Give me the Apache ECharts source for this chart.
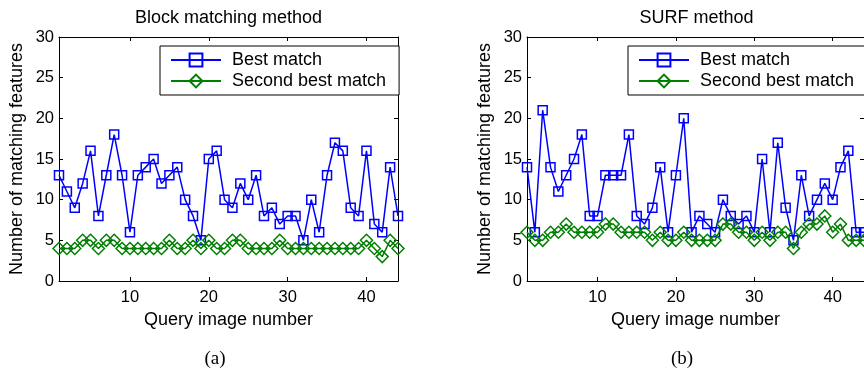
<!DOCTYPE html>
<html>
<head>
<meta charset="utf-8">
<script src="https://cdn.jsdelivr.net/npm/echarts@6/dist/echarts.min.js"></script>
<style>html,body{margin:0;padding:0;background:#fff}#c{width:864px;height:372px}</style>
</head>
<body>
<div id="c"></div>
<script>
// ---- data ----
const titles = ['Block matching method', 'SURF method'];
const captions = ['(a)', '(b)'];
const seriesNames = ['Best match', 'Second best match'];
const xTickValues = [10, 20, 30, 40];
const xMin = 1, xMax = 44;
const blockBest = [13,11,9,12,16,8,13,18,13,6, 13,14,15,12,13,14,10,8,5,15, 16,10,9,12,10,13,8,9,7,8, 8,5,10,6,13,17,16,9,8,16, 7,6,14,8];
const blockSecond = [4,4,4,5,5,4,5,5,4,4, 4,4,4,4,5,4,4,5,4,5, 4,4,5,5,4,4,4,4,5,4, 4,4,4,4,4,4,4,4,4,5, 4,3,5,4];
const surfBest = [14,6,21,14,11,13,15,18,8,8, 13,13,13,18,8,7,9,14,6,13, 20,6,8,7,6,10,8,7,8,6, 15,6,17,9,5,13,8,10,12,10, 14,16,6,6];
const surfSecond = [6,5,5,6,6,7,6,6,6,6, 7,7,6,6,6,6,5,6,5,5, 6,5,5,5,5,7,7,6,6,5, 6,5,6,6,4,6,7,7,8,6, 7,5,5,5];

const FONT = 'Liberation Sans, Arial, Helvetica, sans-serif';
const BLUE = '#0000ff', GREEN = '#008000';
const gridLefts = [59, 527];
const gridTop = 37, gridW = 339, gridH = 244;

function pairs(arr) { return arr.map((v, i) => [i + 1, v]); }

const chart = echarts.init(document.getElementById('c'), null, {renderer: 'canvas'});

const grids = [], xAxes = [], yAxes = [], series = [], legends = [], graphics = [];
const dataSets = [[blockBest, blockSecond], [surfBest, surfSecond]];

for (let g = 0; g < 2; g++) {
  grids.push({left: gridLefts[g], top: gridTop, width: gridW, height: gridH, containLabel: false});
  const tickCommon = {show: true, inside: true, length: 4, lineStyle: {color: '#000', width: 1}, customValues: xTickValues};
  xAxes.push({
    gridIndex: g, type: 'value', min: xMin, max: xMax, position: 'bottom',
    axisLine: {show: true, onZero: false, lineStyle: {color: '#000', width: 1}},
    axisTick: tickCommon,
    axisLabel: {show: true, customValues: xTickValues, color: '#000', fontFamily: FONT, fontSize: 16.5, margin: 8},
    splitLine: {show: false},
    name: 'Query image number', nameLocation: 'middle', nameGap: 28,
    nameTextStyle: {color: '#000', fontFamily: FONT, fontSize: 18}
  });
  xAxes.push({
    gridIndex: g, type: 'value', min: xMin, max: xMax, position: 'top',
    axisLine: {show: true, onZero: false, lineStyle: {color: '#000', width: 1}},
    axisTick: tickCommon,
    axisLabel: {show: false},
    splitLine: {show: false}
  });
  const yTick = {show: true, inside: true, length: 4, lineStyle: {color: '#000', width: 1}};
  yAxes.push({
    gridIndex: g, type: 'value', min: 0, max: 30, interval: 5, position: 'left',
    axisLine: {show: true, onZero: false, lineStyle: {color: '#000', width: 1}},
    axisTick: yTick,
    axisLabel: {color: '#000', fontFamily: FONT, fontSize: 16.5, margin: 5},
    splitLine: {show: false},
    name: 'Number of matching features', nameLocation: 'middle', nameGap: 33, nameRotate: 90,
    nameTextStyle: {color: '#000', fontFamily: FONT, fontSize: 18}
  });
  yAxes.push({
    gridIndex: g, type: 'value', min: 0, max: 30, interval: 5, position: 'right',
    axisLine: {show: true, onZero: false, lineStyle: {color: '#000', width: 1}},
    axisTick: yTick,
    axisLabel: {show: false},
    splitLine: {show: false}
  });
  const [best, second] = dataSets[g];
  series.push({
    name: seriesNames[0], type: 'line', xAxisIndex: 2 * g, yAxisIndex: 2 * g,
    data: pairs(best), symbol: 'rect', symbolSize: 9, showAllSymbol: true,
    lineStyle: {color: BLUE, width: 1.5},
    itemStyle: {color: 'rgba(0,0,0,0)', borderColor: BLUE, borderWidth: 1.5},
    emphasis: {disabled: true}, animation: false, z: 2
  });
  series.push({
    name: seriesNames[1], type: 'line', xAxisIndex: 2 * g, yAxisIndex: 2 * g,
    data: pairs(second), symbol: 'diamond', symbolSize: [12, 12], showAllSymbol: true,
    lineStyle: {color: GREEN, width: 1.5},
    itemStyle: {color: 'rgba(0,0,0,0)', borderColor: GREEN, borderWidth: 1.5},
    emphasis: {disabled: true}, animation: false, z: 3
  });
  legends.push({
    left: gridLefts[g] + 101, top: 46, orient: 'vertical',
    data: seriesNames, selectedMode: false,
    backgroundColor: '#fff', borderColor: '#000', borderWidth: 1, borderRadius: 0,
    padding: [4, 13, 4, 10], itemGap: 1, itemWidth: 50, itemHeight: 16,
    textStyle: {color: '#000', fontFamily: FONT, fontSize: 18, lineHeight: 20, padding: [0, 0, 0, 6]}
  });
  graphics.push({
    type: 'text', x: gridLefts[g] + gridW / 2, y: 18,
    style: {text: titles[g], fill: '#000', font: '18px ' + FONT, textAlign: 'center', textVerticalAlign: 'middle'}
  });
  graphics.push({
    type: 'text', x: [215, 682][g], y: 359,
    style: {text: captions[g], fill: '#000', font: '19px Liberation Serif, Times New Roman, serif', textAlign: 'center', textVerticalAlign: 'middle'}
  });
}

chart.setOption({
  animation: false,
  backgroundColor: '#fff',
  grid: grids, xAxis: xAxes, yAxis: yAxes, series: series, legend: legends,
  graphic: graphics
});
</script>
</body>
</html>
